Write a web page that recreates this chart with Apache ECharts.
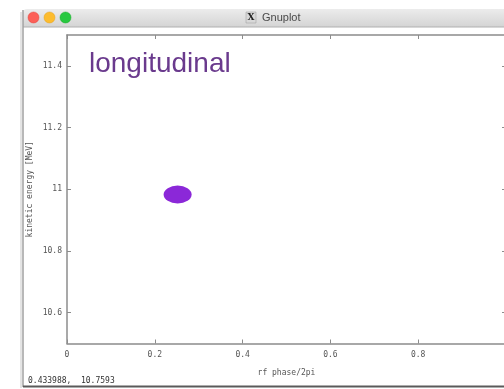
<!DOCTYPE html>
<html lang="en">
<head>
    <meta charset="utf-8">
    <title>Gnuplot longitudinal</title>
    <style>
        html, body { margin: 0; padding: 0; background: #fff; }
        #chart { width: 504px; height: 389px; }
    </style>
</head>
<body>
    <div id="chart"></div>
    <script src="https://cdn.jsdelivr.net/npm/echarts@6/dist/echarts.min.js"></script>
    <script type="text/javascript">
        // axis ticks
        var xTicks = [0, 0.2, 0.4, 0.6, 0.8, 1];
        var xTickLabels = [0, 0.2, 0.4, 0.6, 0.8];   // 1 sits at the cut-off window edge
        var yTicks = [10.6, 10.8, 11, 11.2, 11.4];
        // bunch centre (rf phase/2pi, kinetic energy MeV)
        var bunch = [[0.252, 10.983]];
        var statusText = "0.433988,  10.7593";

        var monoFont = "DejaVu Sans Mono";
        var frameColor = "#8c8c8c";

        function frameAxis(pos, ticks, labels) {
            return {
                type: "value",
                position: pos,
                axisLine: { show: true, onZero: false, lineStyle: { color: frameColor, width: 1.5 } },
                axisTick: { show: true, inside: true, length: 4, customValues: ticks, lineStyle: { color: frameColor } },
                axisLabel: {
                    show: !!labels,
                    customValues: labels || ticks,
                    fontFamily: monoFont,
                    fontSize: 8,
                    color: "#555"
                },
                splitLine: { show: false }
            };
        }

        var xBottom = frameAxis("bottom", xTicks, xTickLabels);
        xBottom.min = 0; xBottom.max = 1;
        xBottom.name = "rf phase/2pi";
        xBottom.nameLocation = "middle";
        xBottom.nameGap = 25;
        xBottom.nameTextStyle = { fontFamily: monoFont, fontSize: 8, color: "#555" };
        xBottom.axisLabel.margin = 7;
        var xTop = frameAxis("top", xTicks, null);
        xTop.min = 0; xTop.max = 1;

        var yLeft = frameAxis("left", yTicks, yTicks);
        yLeft.min = 10.5; yLeft.max = 11.5;
        yLeft.name = "kinetic energy [MeV]";
        yLeft.nameLocation = "middle";
        yLeft.nameGap = 33;
        yLeft.nameMoveOverlap = false;
        yLeft.nameTextStyle = { fontFamily: monoFont, fontSize: 8, color: "#555" };
        yLeft.axisLabel.margin = 5;
        var yRight = frameAxis("right", yTicks, null);
        yRight.min = 10.5; yRight.max = 11.5;

        var chart = echarts.init(document.getElementById("chart"));
        chart.setOption({
            backgroundColor: "#fff",
            animation: false,
            title: {
                text: "longitudinal",
                left: 84,
                top: 45,
                textStyle: { fontFamily: "Liberation Sans", fontSize: 28, fontWeight: "normal", color: "#6a3a8d" }
            },
            grid: { left: 67, top: 35, width: 439, height: 308.5, containLabel: false, outerBoundsMode: "none" },
            xAxis: [xBottom, xTop],
            yAxis: [yLeft, yRight],
            series: [{
                type: "scatter",
                xAxisIndex: 0,
                yAxisIndex: 0,
                symbol: "circle",
                symbolSize: [28, 18],
                itemStyle: { color: "#8b28d8", opacity: 1 },
                data: bunch
            }],
            graphic: [
                // window frame
                { type: "rect", shape: { x: 23, y: 9, width: 490, height: 18, r: [4, 4, 0, 0] },
                  style: { fill: new echarts.graphic.LinearGradient(0, 0, 0, 1, [
                      { offset: 0, color: "#ececec" }, { offset: 1, color: "#d4d4d4" }]) } },
                { type: "line", shape: { x1: 23, y1: 27, x2: 504, y2: 27 }, style: { stroke: "#b0b0b0", lineWidth: 1 } },
                { type: "line", shape: { x1: 23, y1: 10, x2: 23, y2: 387 }, style: { stroke: "#a0a0a0", lineWidth: 1.5 } },
                { type: "line", shape: { x1: 21, y1: 12, x2: 21, y2: 388 }, style: { stroke: "#e4e4e4", lineWidth: 2 } },
                { type: "line", shape: { x1: 23, y1: 386.5, x2: 504, y2: 386.5 }, style: { stroke: "#5a5a5a", lineWidth: 2 } },
                // traffic lights
                { type: "circle", shape: { cx: 33.5, cy: 17.5, r: 5.5 }, style: { fill: "#fc5f57", stroke: "#e0443e", lineWidth: 0.5 } },
                { type: "circle", shape: { cx: 49.5, cy: 17.5, r: 5.5 }, style: { fill: "#fdbc2e", stroke: "#dea123", lineWidth: 0.5 } },
                { type: "circle", shape: { cx: 65.5, cy: 17.5, r: 5.5 }, style: { fill: "#28c840", stroke: "#1aab29", lineWidth: 0.5 } },
                // title
                { type: "rect", shape: { x: 246, y: 12, width: 10, height: 11 }, style: { fill: "#d8d8d8", stroke: "#9a9a9a", lineWidth: 0.5 } },
                { type: "text", x: 251, y: 17.5, style: { text: "X", font: "bold 9px 'DejaVu Serif'", fill: "#222", textAlign: "center", textVerticalAlign: "middle" } },
                { type: "text", x: 262, y: 17.5, style: { text: "Gnuplot", font: "11px 'Liberation Sans'", fill: "#4a4a4a", textAlign: "left", textVerticalAlign: "middle" } },
                // status line
                { type: "text", x: 28, y: 381, style: { text: statusText, font: "8px 'DejaVu Sans Mono'", fill: "#333", textAlign: "left", textVerticalAlign: "middle" } }
            ]
        });
    </script>
</body>
</html>
